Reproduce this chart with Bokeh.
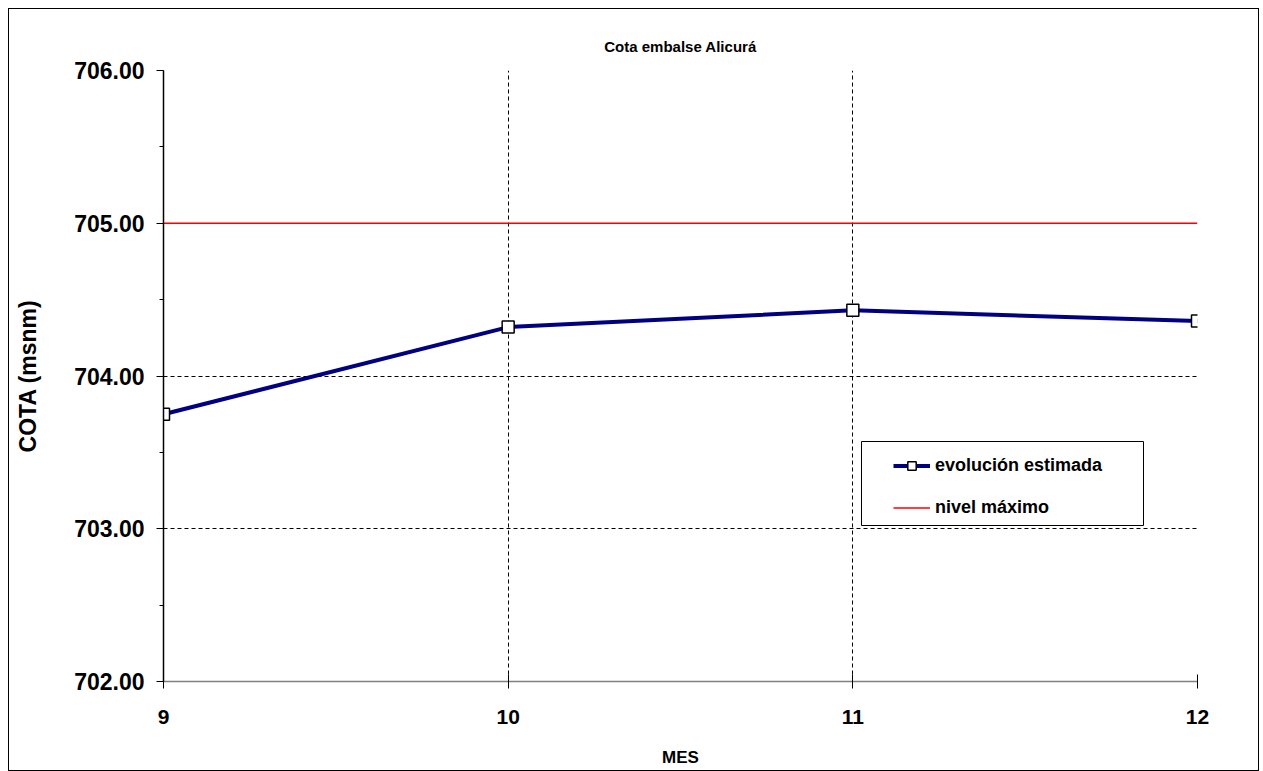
from bokeh.plotting import figure
from bokeh.models import (Range1d, FixedTicker, SingleIntervalTicker, PrintfTickFormatter,
                          Legend, LegendItem, ColumnDataSource, BoxAnnotation)
from bokeh.embed import file_html
from bokeh.resources import INLINE

# data
meses = [9, 10, 11, 12]
evolucion_estimada = [703.75, 704.32, 704.43, 704.36]
nivel_maximo = [705.0, 705.0, 705.0, 705.0]
titulo = "Cota embalse Alicurá"
y_label = "COTA (msnm)"
x_label = "MES"

FONT = "Liberation Sans"

p = figure(width=1251, height=763, output_backend="svg", toolbar_location=None,
           x_range=Range1d(9, 12), y_range=Range1d(702, 706),
           min_border_left=154, min_border_right=63, min_border_top=61, min_border_bottom=91)
p.styles = {"border": "1.5px solid black", "box-sizing": "border-box",
            "margin-left": "8px", "margin-top": "8px"}
p.background_fill_color = "white"
p.border_fill_color = "white"
p.outline_line_color = None

p.title.text = titulo
p.title.align = "center"
p.title.text_font = FONT
p.title.text_font_size = "15px"
p.title.text_font_style = "bold"
p.title.text_color = "black"
p.title.standoff = 32

# axes
xa = p.xaxis[0]
xa.ticker = FixedTicker(ticks=meses)
xa.axis_label = x_label
xa.axis_label_text_font = FONT
xa.axis_label_text_font_size = "17px"
xa.axis_label_text_font_style = "bold"
xa.axis_label_text_color = "black"
xa.axis_label_standoff = 21
xa.major_label_text_font = FONT
xa.major_label_text_font_size = "21px"
xa.major_label_text_font_style = "bold"
xa.major_label_text_color = "black"
xa.major_label_standoff = 21
xa.major_tick_in = 7
xa.major_tick_out = 7
xa.minor_tick_line_color = None
xa.axis_line_color = "#808080"
xa.axis_line_width = 1.5
xa.major_tick_line_color = "black"

ya = p.yaxis[0]
ya.ticker = SingleIntervalTicker(interval=1, num_minor_ticks=2)
ya.formatter = PrintfTickFormatter(format="%.2f")
ya.axis_label = y_label
ya.axis_label_text_font = FONT
ya.axis_label_text_font_size = "23px"
ya.axis_label_text_font_style = "bold"
ya.axis_label_text_color = "black"
ya.axis_label_standoff = 30
ya.major_label_text_font = FONT
ya.major_label_text_font_size = "23px"
ya.major_label_text_font_style = "bold"
ya.major_label_text_color = "black"
ya.major_label_standoff = 12
ya.major_tick_in = 0
ya.major_tick_out = 7
ya.minor_tick_in = 0
ya.minor_tick_out = 4
ya.axis_line_color = "black"
ya.axis_line_width = 1.5

for g in (p.xgrid[0], p.ygrid[0]):
    g.grid_line_color = "black"
    g.grid_line_dash = "4 3"
    g.grid_line_width = 1

src = ColumnDataSource(dict(x=meses, y=evolucion_estimada, m=nivel_maximo))

r_max = p.line("x", "m", source=src, line_color="#FF0000", line_width=1.5)
r_line = p.line("x", "y", source=src, line_color="#000080", line_width=4)
r_pts = p.scatter("x", "y", source=src, marker="square", size=12,
                  fill_color="white", line_color="black", line_width=1.5)

# legend frame (screen units, relative to plot frame bottom-left)
box = BoxAnnotation(left=698, right=980, top=240, bottom=156,
                    left_units="screen", right_units="screen",
                    top_units="screen", bottom_units="screen",
                    fill_color="white", fill_alpha=1,
                    line_color="black", line_width=1, line_alpha=1)
p.add_layout(box)

legend = Legend(items=[LegendItem(label="evolución estimada", renderers=[r_line, r_pts]),
                       LegendItem(label="nivel máximo", renderers=[r_max])],
                location=(730, 163))
legend.label_text_font = FONT
legend.label_text_font_size = "18px"
legend.label_text_font_style = "bold"
legend.label_text_color = "black"
legend.border_line_color = None
legend.background_fill_alpha = 0
legend.padding = 10
legend.spacing = 21
legend.glyph_width = 37
legend.glyph_height = 21
legend.label_height = 21
legend.label_width = 180
legend.label_standoff = 5
legend.margin = 0
p.add_layout(legend, "center")

open("out.html", "w").write(file_html(p, INLINE))
